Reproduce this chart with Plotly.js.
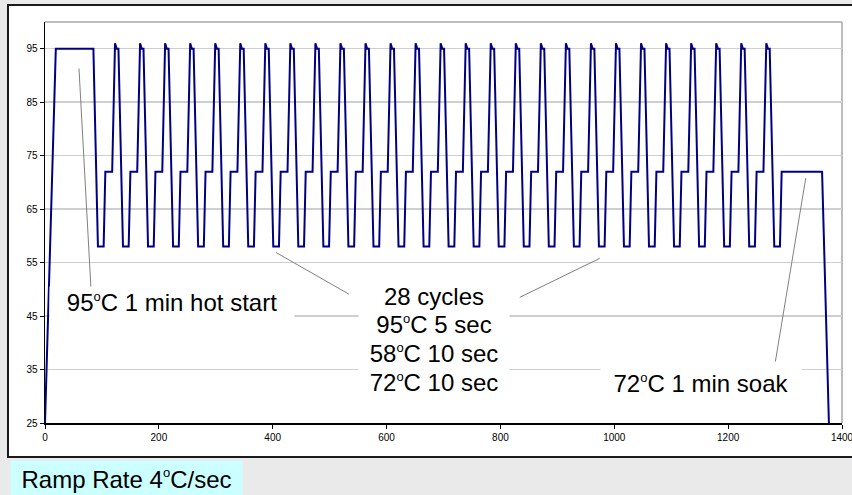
<!DOCTYPE html>
<html><head><meta charset="utf-8">
<script src="https://cdn.plot.ly/plotly-3.0.1.min.js"></script>
<style>html,body{margin:0;padding:0;background:#eaeaea;}#chart{width:852px;height:495px;}</style>
</head><body><div id="chart"></div>
<script>
const time = [0,19,85,93,103,106,118,
 123,126,129,137,147,150,162,
 167,170,173,181,191,194,206,
 211,214,217,225,235,238,250,
 255,258,261,269,279,282,294,
 299,302,305,313,323,326,338,
 343,346,349,357,367,370,382,
 387,390,393,401,411,414,426,
 431,434,437,445,455,458,470,
 475,478,481,489,499,502,514,
 519,522,525,533,543,546,558,
 563,566,569,577,587,590,602,
 607,610,613,621,631,634,646,
 651,654,657,665,675,678,690,
 695,698,701,709,719,722,734,
 739,742,745,753,763,766,778,
 783,786,789,797,807,810,822,
 827,830,833,841,851,854,866,
 871,874,877,885,895,898,910,
 915,918,921,929,939,942,954,
 959,962,965,973,983,986,998,
 1003,1006,1009,1017,1027,1030,1042,
 1047,1050,1053,1061,1071,1074,1086,
 1091,1094,1097,1105,1115,1118,1130,
 1135,1138,1141,1149,1159,1162,1174,
 1179,1182,1185,1193,1203,1206,1218,
 1223,1226,1229,1237,1247,1250,1262,
 1267,1270,1273,1281,1291,1294,1365,1377];
const temp = [25,95,95,58,58,72,72,
 96,95,95,58,58,72,72,
 96,95,95,58,58,72,72,
 96,95,95,58,58,72,72,
 96,95,95,58,58,72,72,
 96,95,95,58,58,72,72,
 96,95,95,58,58,72,72,
 96,95,95,58,58,72,72,
 96,95,95,58,58,72,72,
 96,95,95,58,58,72,72,
 96,95,95,58,58,72,72,
 96,95,95,58,58,72,72,
 96,95,95,58,58,72,72,
 96,95,95,58,58,72,72,
 96,95,95,58,58,72,72,
 96,95,95,58,58,72,72,
 96,95,95,58,58,72,72,
 96,95,95,58,58,72,72,
 96,95,95,58,58,72,72,
 96,95,95,58,58,72,72,
 96,95,95,58,58,72,72,
 96,95,95,58,58,72,72,
 96,95,95,58,58,72,72,
 96,95,95,58,58,72,72,
 96,95,95,58,58,72,72,
 96,95,95,58,58,72,72,
 96,95,95,58,58,72,72,
 96,95,95,58,58,72,72,25];

const xTickVals = [0,200,400,600,800,1000,1200,1400];
const yTickVals = [25,35,45,55,65,75,85,95];

const DEG = '<sup><span style="font-size:13px">o</span></sup>';
const hotStartText = '95' + DEG + 'C 1 min hot start';
const cycleLines = ['28 cycles', '95' + DEG + 'C 5 sec', '58' + DEG + 'C 10 sec', '72' + DEG + 'C 10 sec'];
const soakText = '72' + DEG + 'C 1 min soak';
const rampText = 'Ramp Rate 4' + DEG + 'C/sec';

const FONT = 'Liberation Sans, Arial, sans-serif';

const trace = {
  x: time, y: temp, type: 'scatter', mode: 'lines',
  line: {color: '#000080', width: 2}, hoverinfo: 'none'
};

const cycleY = [48.58, 43.35, 37.94, 32.52];
const annotations = [
  {x: 223, y: 47.46, xref: 'x', yref: 'y', text: hotStartText, showarrow: false,
   font: {family: FONT, size: 24, color: '#000'}, bgcolor: '#fff', width: 240, borderpad: 2}
];
cycleLines.forEach((t, i) => annotations.push({
  x: 683, y: cycleY[i], xref: 'x', yref: 'y', text: t, showarrow: false,
  font: {family: FONT, size: 24, color: '#000'}, bgcolor: '#fff', width: 150, borderpad: 0
}));
annotations.push({x: 1153, y: 32.3, xref: 'x', yref: 'y', text: soakText, showarrow: false,
  font: {family: FONT, size: 24, color: '#000'}, bgcolor: '#fff', width: 196, borderpad: 2});
annotations.push({x: (10-45)/797, y: (423-479)/401, xref: 'paper', yref: 'paper', xanchor: 'left', yanchor: 'middle',
  text: rampText, showarrow: false, font: {family: FONT, size: 24, color: '#000'},
  bgcolor: '#ccffff', width: 227, height: 32, borderpad: 2});

const leader = (x0, y0, x1, y1) => ({type: 'line', xref: 'x', yref: 'y', x0, y0, x1, y1,
  line: {color: '#808080', width: 1}, layer: 'above'});

const shapes = [
  {type: 'rect', xref: 'paper', yref: 'paper', x0: (8-45)/797, x1: (880-45)/797,
   y0: (423-457)/401, y1: (423-5)/401, fillcolor: '#ffffff', line: {color: '#1a1a1a', width: 2}, layer: 'below'},
  {type: 'line', xref: 'paper', yref: 'paper', x0: 0, x1: 1, y0: 1, y1: 1, line: {color: '#a6a6a6', width: 1.5}, layer: 'below'},
  {type: 'line', xref: 'paper', yref: 'paper', x0: 1, x1: 1, y0: 0, y1: 1, line: {color: '#a6a6a6', width: 1.5}, layer: 'below'},
  leader(59.7, 91.3, 80.8, 50),
  leader(405.6, 56.9, 533.8, 49.1),
  leader(974.5, 55.8, 834, 48.5),
  leader(1336.3, 70.8, 1283, 36.5)
];

const layout = {
  width: 852, height: 495,
  margin: {l: 45, r: 10, t: 22, b: 72, pad: 0},
  paper_bgcolor: '#eaeaea', plot_bgcolor: '#ffffff',
  showlegend: false,
  font: {family: FONT, size: 10, color: '#000'},
  xaxis: {range: [0, 1400], tickvals: xTickVals, ticktext: xTickVals.map(String),
    showgrid: false, zeroline: false, showline: true, linecolor: '#000', linewidth: 1.5,
    ticks: 'outside', ticklen: 4, tickcolor: '#000', ticklabeloverflow: 'allow',
    tickfont: {family: FONT, size: 10, color: '#000'}},
  yaxis: {range: [25, 100], tickvals: yTickVals, ticktext: yTickVals.map(String),
    showgrid: true, gridcolor: '#cfcfcf', gridwidth: 1.5, zeroline: false, showline: true, linecolor: '#000', linewidth: 1.5,
    ticks: 'outside', ticklen: 4, tickcolor: '#000', tickfont: {family: FONT, size: 10, color: '#000'}},
  annotations, shapes
};

Plotly.newPlot('chart', [trace], layout, {displayModeBar: false, staticPlot: true});
</script></body></html>
